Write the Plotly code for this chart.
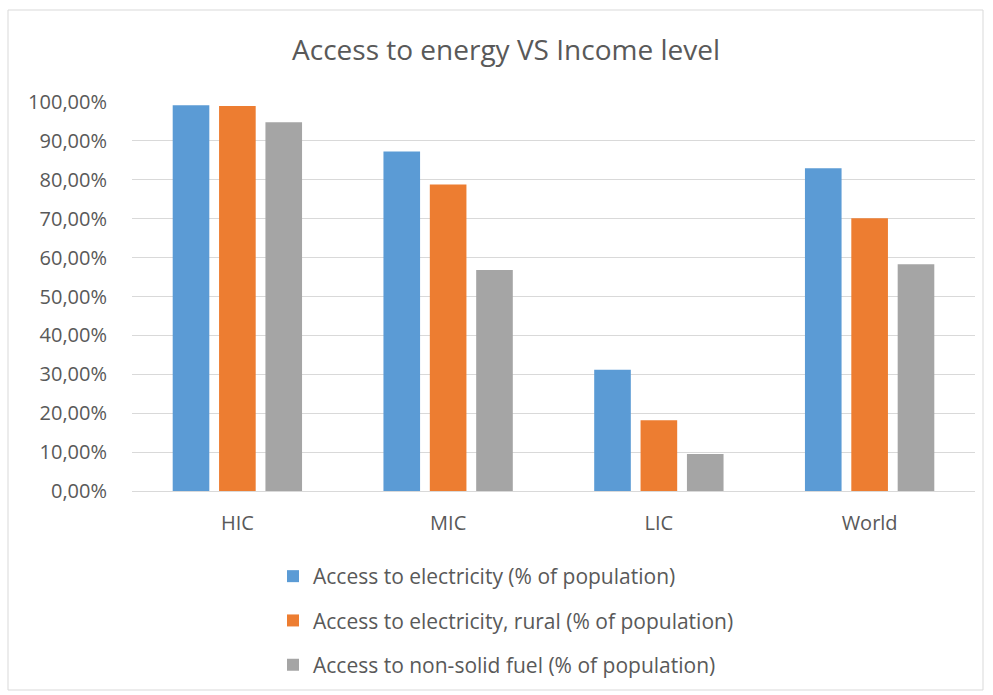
import plotly.graph_objects as go

# Income groups and access indicators (% of population)
categories = ["HIC", "MIC", "LIC", "World"]
electricity = [99.15, 87.3, 31.2, 83.0]
electricity_rural = [99.0, 78.8, 18.2, 70.1]
non_solid_fuel = [94.8, 56.8, 9.5, 58.3]

series_names = [
    "Access to electricity (% of population)",
    "Access to electricity, rural (% of population)",
    "Access to non-solid fuel (% of population)",
]
series_values = [electricity, electricity_rural, non_solid_fuel]
series_colors = ["#5B9BD5", "#ED7D31", "#A5A5A5"]

text_color = "#595959"
grid_color = "#D9D9D9"
font_family = "Open Sans, Liberation Sans, sans-serif"

# plot area in pixels
PL, PR, PT, PB = 132, 975, 102, 491
PW, PH = PR - PL, PB - PT

fig = go.Figure()
for i, (name, vals, col) in enumerate(zip(series_names, series_values, series_colors)):
    fig.add_trace(go.Bar(
        x=categories,
        y=vals,
        name=name,
        marker=dict(color=col, line=dict(width=0)),
        legendgroup=f"g{i}",
        hoverinfo="x+y+name",
    ))

fig.update_layout(
    width=993,
    height=695,
    paper_bgcolor="white",
    plot_bgcolor="white",
    separators=",.",
    barmode="group",
    bargap=0.34,
    bargroupgap=0.21,
    margin=dict(l=PL, r=993 - PR, t=PT, b=695 - PB, autoexpand=False),
    font=dict(family=font_family, color=text_color, size=20),
    title=dict(
        text="Access to energy VS Income level",
        x=506 / 993,
        xref="container",
        xanchor="center",
        y=1 - 50 / 695,
        yref="container",
        yanchor="middle",
        font=dict(size=28, color=text_color, family=font_family),
    ),
    xaxis=dict(
        showgrid=False,
        showline=True,
        linecolor=grid_color,
        linewidth=1,
        ticks="",
        tickangle=0,
        automargin=False,
        ticklabelstandoff=14,
        tickfont=dict(size=20, color=text_color),
    ),
    yaxis=dict(
        range=[0, 100],
        dtick=10,
        tickformat=".2f",
        ticksuffix="%",
        showgrid=True,
        gridcolor=grid_color,
        gridwidth=1,
        zeroline=False,
        showline=False,
        ticks="",
        automargin=False,
        ticklabelstandoff=24,
        tickfont=dict(size=20, color=text_color),
    ),
    legend=dict(
        orientation="v",
        x=(273 - PL) / PW,
        xanchor="left",
        y=(PB - 556) / PH,
        yanchor="top",
        font=dict(size=21, color=text_color),
        tracegroupgap=14,
        itemsizing="constant",
        bgcolor="rgba(0,0,0,0)",
    ),
    shapes=[
        dict(
            type="rect",
            xref="paper",
            yref="paper",
            x0=(8 - PL) / PW,
            x1=(983 - PL) / PW,
            y0=(PB - 690) / PH,
            y1=(PB - 10) / PH,
            line=dict(color=grid_color, width=1),
            fillcolor="rgba(0,0,0,0)",
            layer="below",
        )
    ],
)

fig.write_html("out.html")
